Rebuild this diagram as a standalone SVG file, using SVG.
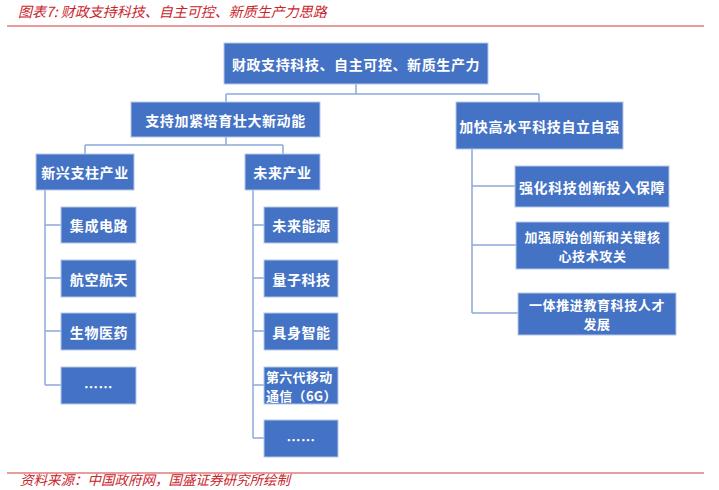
<svg xmlns="http://www.w3.org/2000/svg" width="719" height="490" viewBox="0 0 719 490">
<style>
.bg{fill:#ffffff}
.box{fill:#4472C4;stroke:#B4C7E7;stroke-width:1}
.t{fill:#ffffff;font-family:"Noto Sans CJK SC","Noto Sans",sans-serif;font-size:14px;font-weight:bold;letter-spacing:0.6px;text-anchor:middle;dominant-baseline:central}
.s{font-size:13px}
.tl{text-anchor:start}
.red{fill:#C9252C;font-family:"Noto Sans CJK SC","Noto Sans",sans-serif;font-size:14px;font-style:italic}
.rule{stroke:#D43B3B;stroke-width:1.2}
.conn{fill:none;stroke:#8EA9DB;stroke-width:1.5}
</style>
<rect class="bg" x="0" y="0" width="719" height="490"/>
<g id="title">
<text class="red" x="18" y="17">图表7: 财政支持科技、自主可控、新质生产力思路</text>
<line class="rule" x1="7" y1="26" x2="704" y2="26"/>
</g>
<g id="connectors">
<path class="conn" d="M356 84V94M226 94H539M226 94V102M539 94V102"/>
<path class="conn" d="M226 137V145M85 145H283M85 145V154M283 145V154"/>
<path class="conn" d="M45 190V385M45 225H61M45 278H61M45 331H61M45 385H61"/>
<path class="conn" d="M253 190V438M253 225H264M253 278H264M253 331H264M253 385H264M253 438H264"/>
<path class="conn" d="M472 149V313M472 186H515M472 245H516M472 313H518"/>
</g>
<g id="root"><rect class="box" x="224" y="43" width="264" height="41"/><text class="t" x="356" y="63.5">财政支持科技、自主可控、新质生产力</text></g>
<g id="n-left"><rect class="box" x="131" y="102" width="189" height="35"/><text class="t" x="225.5" y="119.5">支持加紧培育壮大新动能</text></g>
<g id="n-right"><rect class="box" x="456" y="102" width="167" height="47"/><text class="t" x="539.5" y="125.5">加快高水平科技自立自强</text></g>
<g id="n-emerging"><rect class="box" x="36" y="154" width="98" height="36"/><text class="t" x="85" y="172">新兴支柱产业</text></g>
<g id="n-future"><rect class="box" x="245" y="154" width="75" height="36"/><text class="t" x="282.5" y="172">未来产业</text></g>
<g id="n-ic"><rect class="box" x="61" y="207" width="75" height="36"/><text class="t" x="99" y="225">集成电路</text></g>
<g id="n-aero"><rect class="box" x="61" y="260" width="75" height="37"/><text class="t" x="99" y="278.5">航空航天</text></g>
<g id="n-bio"><rect class="box" x="61" y="313" width="75" height="37"/><text class="t" x="99" y="331.5">生物医药</text></g>
<g id="n-etc1"><rect class="box" x="61" y="367" width="75" height="37"/><text class="t" x="98.5" y="385.5">……</text></g>
<g id="n-energy"><rect class="box" x="264" y="207" width="74" height="36"/><text class="t" x="301.5" y="225">未来能源</text></g>
<g id="n-quantum"><rect class="box" x="264" y="260" width="74" height="37"/><text class="t" x="301.5" y="278.5">量子科技</text></g>
<g id="n-embodied"><rect class="box" x="264" y="313" width="74" height="37"/><text class="t" x="301.5" y="331.5">具身智能</text></g>
<g id="n-6g"><rect class="box" x="264" y="367" width="74" height="37"/><text class="t s tl" x="266" y="376" style="letter-spacing:0.3px">第六代移动</text><text class="t s tl" x="266" y="395" style="letter-spacing:0.3px">通信（6G）</text></g>
<g id="n-etc2"><rect class="box" x="264" y="420" width="74" height="37"/><text class="t" x="301" y="438.5">……</text></g>
<g id="n-invest"><rect class="box" x="515" y="166" width="154" height="41"/><text class="t" x="592" y="186.5">强化科技创新投入保障</text></g>
<g id="n-core"><rect class="box" x="516" y="222" width="153" height="47"/><text class="t s" x="592.5" y="236">加强原始创新和关键核</text><text class="t s" x="592.5" y="255">心技术攻关</text></g>
<g id="n-talent"><rect class="box" x="518" y="293" width="158" height="42"/><text class="t s" x="597" y="304.5">一体推进教育科技人才</text><text class="t s" x="597" y="323.5">发展</text></g>
<g id="footer">
<line class="rule" x1="7" y1="473" x2="704" y2="473"/>
<text class="red" x="20" y="485" style="font-size:13.5px">资料来源：中国政府网，国盛证券研究所绘制</text>
</g>
</svg>
